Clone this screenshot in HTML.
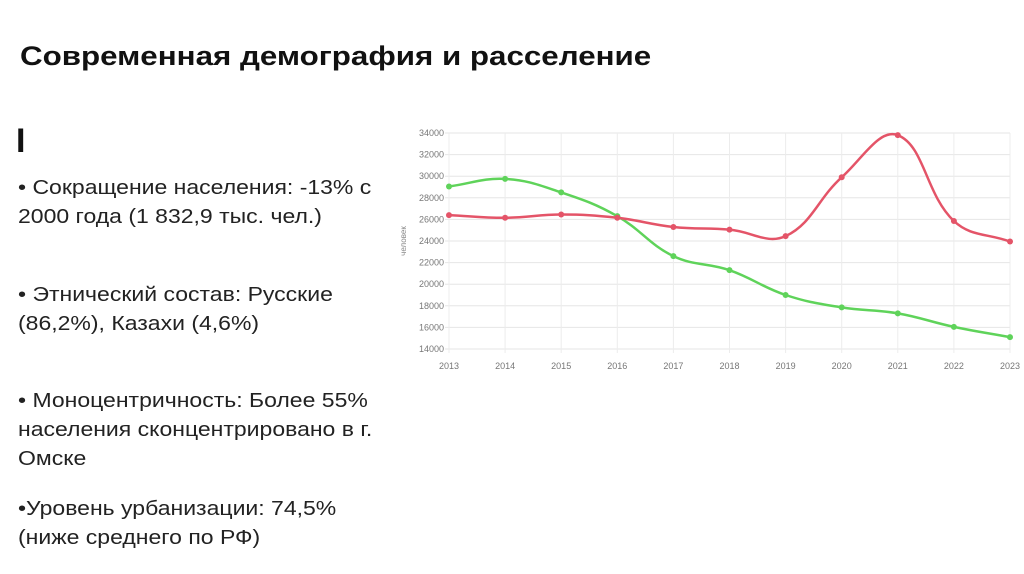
<!DOCTYPE html>
<html><head><meta charset="utf-8"><style>
body{margin:0;width:1024px;height:574px;background:#fff;font-family:"Liberation Sans",sans-serif;position:relative;overflow:hidden}
.t{position:absolute;color:#111}
#title{left:20px;top:41px;font-size:27px;font-weight:bold;white-space:nowrap;transform:scaleX(1.16);transform-origin:left top}
.b{position:absolute;left:18px;font-size:20px;line-height:29px;color:#222;width:316px;transform:scaleX(1.15);transform-origin:left top}
</style></head><body>
<div id="title" class="t">Современная демография и расселение</div>
<div class="t" style="left:16px;top:122px;font-size:34px;font-weight:bold">I</div>
<div class="b" style="top:174px">• Сокращение населения: -13% с 2000 года (1 832,9 тыс. чел.)</div>
<div class="b" style="top:281px">• Этнический состав: Русские (86,2%), Казахи (4,6%)</div>
<div class="b" style="top:387px">• Моноцентричность: Более 55% населения сконцентрировано в г. Омске</div>
<div class="b" style="top:495px">•Уровень урбанизации: 74,5% (ниже среднего по РФ)</div>
<svg id="chart" width="1024" height="574" style="position:absolute;left:0;top:0"></svg>
<script>
const years=["2013","2014","2015","2016","2017","2018","2019","2020","2021","2022","2023"];
const redSeries=[26400,26150,26450,26150,25300,25050,24450,29900,33800,25850,23950];
const greenSeries=[29050,29750,28500,26300,22600,21300,19000,17850,17300,16050,15100];
const yTicks=[14000,16000,18000,20000,22000,24000,26000,28000,30000,32000,34000];
const svg=document.getElementById('chart');const NS='http://www.w3.org/2000/svg';
const x0=449,x1=1010,yTop=133,yBot=349;
const xs=i=>x0+(x1-x0)*i/(years.length-1);
const ys=v=>yBot-(v-14000)/(20000)*(yBot-yTop);
function mk(t,a){const e=document.createElementNS(NS,t);for(const k in a)e.setAttribute(k,a[k]);svg.appendChild(e);return e;}
yTicks.forEach(v=>{const g=mk('line',{x1:x0-4,x2:x1,y1:ys(v),y2:ys(v),stroke:'#e6e6e6'});


const t=mk('text',{x:x0-5,y:ys(v)+3,'text-anchor':'end','font-size':'9','fill':'#777','font-family':'Liberation Sans'});t.textContent=v;

});
years.forEach((y,i)=>{const g=mk('line',{x1:xs(i),x2:xs(i),y1:yTop,y2:yBot+4,stroke:'#ececec'});


const t=mk('text',{x:xs(i),y:yBot+20,'text-anchor':'middle','font-size':'9','fill':'#777','font-family':'Liberation Sans'});t.textContent=y;

});
const at=mk('text',{x:406,y:241,'text-anchor':'middle','font-size':'8','fill':'#888',transform:'rotate(-90 406 241)','font-family':'Liberation Sans'});at.textContent='человек';


function path(vals,color,name){const p=vals.map((v,i)=>[xs(i),ys(v)]);const T=0.4;let d=`M${p[0][0]},${p[0][1]}`;
const cp=p.map((c,i)=>{const pr=p[Math.max(0,i-1)],nx=p[Math.min(p.length-1,i+1)];
const d01=Math.hypot(c[0]-pr[0],c[1]-pr[1]),d12=Math.hypot(nx[0]-c[0],nx[1]-c[1]);
let fa=T*d01/(d01+d12||1),fb=T*d12/(d01+d12||1);
return [[c[0]-fa*(nx[0]-pr[0]),c[1]-fa*(nx[1]-pr[1])],[c[0]+fb*(nx[0]-pr[0]),c[1]+fb*(nx[1]-pr[1])]];});
for(let i=1;i<p.length;i++){d+=` C${cp[i-1][1][0]},${cp[i-1][1][1]} ${cp[i][0][0]},${cp[i][0][1]} ${p[i][0]},${p[i][1]}`;}
const l=mk('path',{d,fill:'none',stroke:color,'stroke-width':2.5});


p.forEach(q=>{const c=mk('circle',{cx:q[0],cy:q[1],r:3,fill:color});

});}
path(greenSeries,'#5fd35a','green-series');
path(redSeries,'#e45468','red-series');
</script>
</body></html>
